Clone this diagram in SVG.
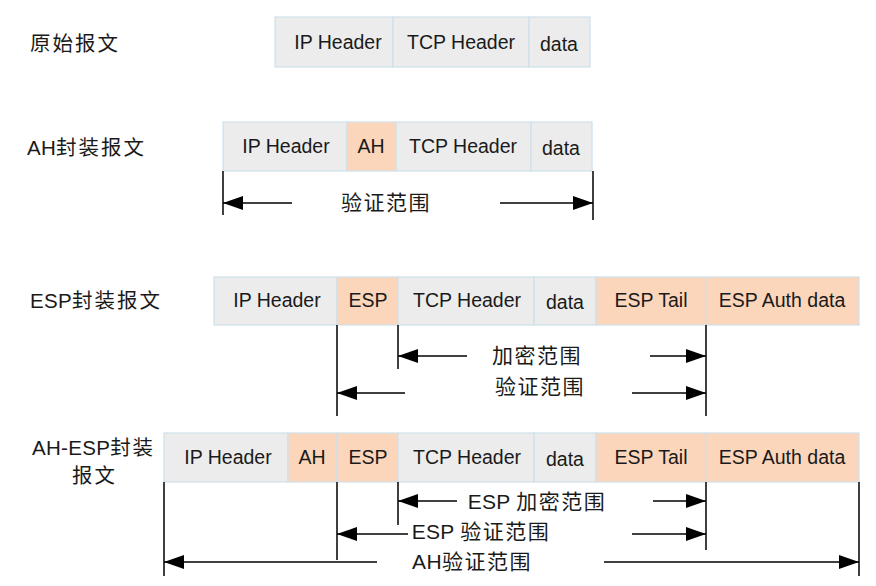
<svg xmlns="http://www.w3.org/2000/svg" width="876" height="586" viewBox="0 0 876 586">
<style>
.g{fill:#ececec;stroke:#cfdfec;stroke-width:1.2}
.o{fill:#fcd6bb;stroke:#cfdfec;stroke-width:1.2}
.t{font-family:"Liberation Sans",Arial,sans-serif;font-size:19.5px;fill:#1a1a1a;text-anchor:middle;dominant-baseline:central}
.l{font-family:"Liberation Sans","Noto Sans CJK SC",sans-serif;font-size:20.5px;fill:#1a1a1a;letter-spacing:2px;dominant-baseline:central}
.c{font-family:"Liberation Sans","Noto Sans CJK SC",sans-serif;font-size:21px;fill:#1a1a1a;text-anchor:middle;letter-spacing:1.5px;dominant-baseline:central}
.n{letter-spacing:0.3px}
.v{stroke:#000;stroke-width:1.5;fill:none}
.a{stroke:#000;stroke-width:1.5;fill:none;marker-end:url(#ah)}
</style>
<defs>
<marker id="ah" markerUnits="userSpaceOnUse" markerWidth="20" markerHeight="14" refX="20" refY="7" orient="auto">
<path d="M0,0 L20,7 L0,14 z" fill="#000"/>
</marker>
</defs>
<rect width="876" height="586" fill="#fff"/>

<g id="labels">
<text class="l" x="30" y="43">原始报文</text>
<text class="l" x="27" y="147"><tspan class="n">AH</tspan>封装报文</text>
<text class="l" x="30" y="300"><tspan class="n">ESP</tspan>封装报文</text>
<text class="l" x="32" y="447"><tspan class="n">AH-ESP</tspan>封装</text>
<text class="l" x="72" y="475">报文</text>
</g>

<g id="row1">
<rect class="g" x="275" y="17" width="118" height="50"/>
<rect class="g" x="393" y="17" width="136" height="50"/>
<rect class="g" x="529" y="17" width="61" height="50"/>
<text class="t" x="338" y="42">IP Header</text>
<text class="t" x="461" y="42">TCP Header</text>
<text class="t" x="559" y="44">data</text>
</g>

<g id="row2">
<rect class="g" x="223" y="122" width="124" height="49"/>
<rect class="o" x="347" y="122" width="49" height="49"/>
<rect class="g" x="396" y="122" width="135" height="49"/>
<rect class="g" x="531" y="122" width="61" height="49"/>
<text class="t" x="286" y="146">IP Header</text>
<text class="t" x="371" y="146">AH</text>
<text class="t" x="463" y="146">TCP Header</text>
<text class="t" x="561" y="148">data</text>
</g>

<g id="row3">
<rect class="g" x="214" y="277" width="123" height="48"/>
<rect class="o" x="337" y="277" width="61" height="48"/>
<rect class="g" x="398" y="277" width="136" height="48"/>
<rect class="g" x="534" y="277" width="62" height="48"/>
<rect class="o" x="596" y="277" width="110" height="48"/>
<rect class="o" x="706" y="277" width="153" height="48"/>
<text class="t" x="277" y="300">IP Header</text>
<text class="t" x="368" y="300">ESP</text>
<text class="t" x="467" y="300">TCP Header</text>
<text class="t" x="565" y="302">data</text>
<text class="t" x="651" y="300">ESP Tail</text>
<text class="t" x="782" y="300">ESP Auth data</text>
</g>

<g id="row4">
<rect class="g" x="164" y="433" width="124" height="49"/>
<rect class="o" x="288" y="433" width="49" height="49"/>
<rect class="o" x="337" y="433" width="61" height="49"/>
<rect class="g" x="398" y="433" width="136" height="49"/>
<rect class="g" x="534" y="433" width="62" height="49"/>
<rect class="o" x="596" y="433" width="110" height="49"/>
<rect class="o" x="706" y="433" width="153" height="49"/>
<text class="t" x="228" y="457">IP Header</text>
<text class="t" x="312" y="457">AH</text>
<text class="t" x="368" y="457">ESP</text>
<text class="t" x="467" y="457">TCP Header</text>
<text class="t" x="565" y="459">data</text>
<text class="t" x="651" y="457">ESP Tail</text>
<text class="t" x="782" y="457">ESP Auth data</text>
</g>

<g id="connectors">
<line class="v" x1="223" y1="171" x2="223" y2="215"/>
<line class="v" x1="593" y1="171" x2="593" y2="220"/>
<line class="a" x1="292" y1="203" x2="223" y2="203"/>
<line class="a" x1="500" y1="203" x2="593" y2="203"/>

<line class="v" x1="337" y1="325" x2="337" y2="416"/>
<line class="v" x1="398" y1="325" x2="398" y2="369"/>
<line class="v" x1="706" y1="325" x2="706" y2="416"/>
<line class="a" x1="467" y1="356" x2="398" y2="356"/>
<line class="a" x1="650" y1="356" x2="706" y2="356"/>
<line class="a" x1="405" y1="393" x2="337" y2="393"/>
<line class="a" x1="632" y1="393" x2="706" y2="393"/>

<line class="v" x1="164" y1="482" x2="164" y2="576"/>
<line class="v" x1="337" y1="482" x2="337" y2="560"/>
<line class="v" x1="398" y1="482" x2="398" y2="525"/>
<line class="v" x1="706" y1="482" x2="706" y2="550"/>
<line class="v" x1="859" y1="482" x2="859" y2="576"/>
<line class="a" x1="457" y1="501" x2="398" y2="501"/>
<line class="a" x1="653" y1="501" x2="706" y2="501"/>
<line class="a" x1="408" y1="534" x2="337" y2="534"/>
<line class="a" x1="632" y1="534" x2="706" y2="534"/>
<line class="a" x1="377" y1="562" x2="164" y2="562"/>
<line class="a" x1="604" y1="562" x2="859" y2="562"/>
</g>

<g id="range-labels">
<text class="c" x="386" y="202">验证范围</text>
<text class="c" x="537" y="355">加密范围</text>
<text class="c" x="540" y="386">验证范围</text>
<text class="c" x="537" y="501"><tspan class="n">ESP </tspan>加密范围</text>
<text class="c" x="481" y="531"><tspan class="n">ESP </tspan>验证范围</text>
<text class="c" x="472" y="561"><tspan class="n">AH</tspan>验证范围</text>
</g>
</svg>
